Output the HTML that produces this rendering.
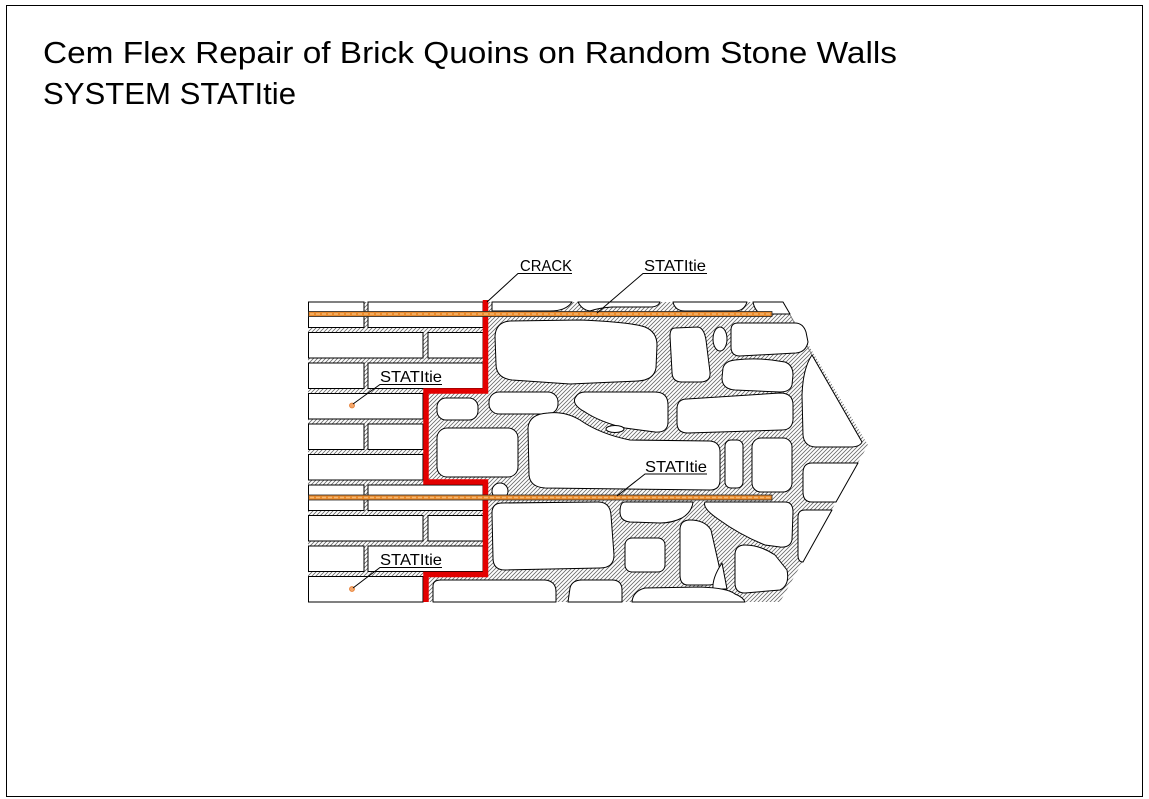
<!DOCTYPE html>
<html>
<head>
<meta charset="utf-8">
<style>
html,body{margin:0;padding:0;background:#fff;}
svg{display:block;}
text{font-family:"Liberation Sans","DejaVu Sans",sans-serif;fill:#000;}
</style>
</head>
<body>
<svg width="1149" height="799" viewBox="0 0 1149 799" xmlns="http://www.w3.org/2000/svg">
<defs>
<pattern id="h" patternUnits="userSpaceOnUse" width="4" height="4">
<path d="M-1,1 L1,-1 M0,4 L4,0 M3,5 L5,3" stroke="#6a6a6a" stroke-width="0.8"/>
</pattern>
</defs>
<rect x="0" y="0" width="1149" height="799" fill="#fff"/>
<rect x="6.5" y="5.5" width="1136" height="791" fill="none" stroke="#000" stroke-width="1"/>

<text x="43" y="63" font-size="31" textLength="854" lengthAdjust="spacingAndGlyphs">Cem Flex Repair of Brick Quoins on Random Stone Walls</text>
<text x="43" y="104" font-size="31" textLength="253" lengthAdjust="spacingAndGlyphs">SYSTEM STATItie</text>

<!-- hatched mortar region -->
<path d="M308,302 L783,302 L868,445 L780,602 L308,602 Z" fill="url(#h)"/>
<path d="M783,302 L812,355" stroke="#777" stroke-width="0.8" fill="none"/>

<!-- bricks -->
<g fill="#fff" stroke="#000" stroke-width="1">
<rect x="308.5" y="302" width="55.5" height="25.5"/>
<rect x="368" y="302" width="115" height="25.5"/>
<rect x="308.5" y="332.5" width="114.5" height="25.5"/>
<rect x="428" y="332.5" width="55" height="25.5"/>
<rect x="308.5" y="363" width="55.5" height="25.5"/>
<rect x="368" y="363" width="115" height="25.5"/>
<rect x="308.5" y="393.5" width="114.5" height="25.5"/>
<rect x="308.5" y="424" width="55.5" height="25.5"/>
<rect x="368" y="424" width="55" height="25.5"/>
<rect x="308.5" y="454.5" width="114.5" height="25.5"/>
<rect x="308.5" y="485" width="55.5" height="25.5"/>
<rect x="368" y="485" width="115" height="25.5"/>
<rect x="308.5" y="515.5" width="114.5" height="25.5"/>
<rect x="428" y="515.5" width="55" height="25.5"/>
<rect x="308.5" y="546" width="55.5" height="25.5"/>
<rect x="368" y="546" width="115" height="25.5"/>
<rect x="308.5" y="576.5" width="114.5" height="25.5"/>
</g>

<!-- stones -->
<g fill="#fff" stroke="#000" stroke-width="1" stroke-linejoin="round">
<path d="M492,302 L572,302 Q566,311 550,311 L492,311 Z"/>
<path d="M578,302 L660,302 Q658,307 650,307 L612,307 Q598,308 590,311 Q582,310 578,302 Z"/>
<path d="M673,302 L747,302 Q744,311 735,311 L685,311 Q675,311 673,302 Z"/>
<path d="M753,302 L783,302 L790,314 L762,314 Q755,312 753,302 Z"/>
<path d="M510,321 L580,320 Q630,322 645,327 Q657,332 657,345 L656,368 Q654,380 638,381 L570,384 L512,380 Q496,378 496,364 L495,336 Q496,322 510,321 Z"/>
<rect x="437" y="398" width="41" height="22" rx="9"/>
<rect x="489" y="392" width="69" height="22" rx="10"/>
<path d="M585,392 L655,392 Q668,392 668,405 L668,422 Q668,433 655,432 L625,428 Q600,422 585,412 Q572,405 575,398 Q578,392 585,392 Z"/>
<ellipse cx="615" cy="429" rx="9" ry="3.5"/>
<path d="M548,413 Q565,411 580,420 Q600,434 630,440 L710,441 Q720,442 720,452 L720,480 Q720,490 710,490 L545,488 Q530,487 529,475 L528,428 Q529,414 548,413 Z"/>
<rect x="437" y="428" width="81" height="49" rx="10"/>
<path d="M675,328 L698,327 Q704,328 706,340 L710,372 Q711,382 700,382 L682,382 Q672,382 672,372 L670,336 Q670,328 675,328 Z"/>
<ellipse cx="720" cy="339" rx="7" ry="12"/>
<path d="M738,323 L795,323 Q803,323 806,332 L808,342 Q806,352 796,353 L740,356 Q731,356 731,347 L731,330 Q731,323 738,323 Z"/>
<path d="M735,360 Q760,357 785,362 Q793,365 793,375 L792,385 Q790,392 780,392 L735,390 Q722,389 722,378 L723,368 Q725,361 735,360 Z"/>
<path d="M812,355 L862,442 Q860,447 850,447 L815,447 Q804,446 803,435 L802,395 Q803,368 812,355 Z"/>
<path d="M687,399 L780,393 Q793,393 793,405 L793,420 Q792,430 782,430 L688,433 Q677,433 677,423 L677,409 Q677,399 687,399 Z"/>
<rect x="725" y="440" width="18" height="48" rx="6"/>
<rect x="752" y="438" width="40" height="54" rx="9"/>
<path d="M812,463 L858,463 L836,502 L812,502 Q803,502 803,492 L803,473 Q803,463 812,463 Z"/>
<path d="M805,510 L832,510 L803,562 Q798,562 798,555 L798,517 Q798,510 805,510 Z"/>
<circle cx="500" cy="491" r="8"/>
<path d="M502,503 L598,502 Q610,502 611,515 L614,555 Q614,568 600,568 L505,570 Q493,570 493,558 L492,513 Q492,503 502,503 Z"/>
<path d="M625,502 L693,502 Q692,512 682,518 Q672,523 660,523 L630,522 Q620,521 620,512 Q620,502 625,502 Z"/>
<path d="M705,502 L785,502 Q793,502 793,512 L792,540 Q790,548 780,547 L765,545 Q740,535 718,519 Q702,508 705,502 Z"/>
<path d="M690,520 Q705,520 711,530 L720,570 Q721,585 708,585 L688,585 Q680,585 680,575 L680,530 Q680,520 690,520 Z"/>
<path d="M722,563 L727,589 L713,589 Q712,578 722,563 Z"/>
<path d="M745,545 Q760,545 775,555 L787,570 Q790,585 780,590 L745,593 Q735,593 735,583 L735,555 Q735,545 745,545 Z"/>
<rect x="625" y="538" width="40" height="34" rx="7"/>
<path d="M433,602 L433,586 Q433,580 441,580 L545,580 Q556,581 556,592 L556,602 Z"/>
<path d="M568,602 L570,588 Q572,580 582,580 L612,580 Q622,580 622,590 L622,602 Z"/>
<path d="M632,602 Q633,591 645,588 L700,587 Q728,588 735,594 Q743,597 745,602 Z"/>
</g>

<!-- crack -->
<polyline points="485.5,300 485.5,391 426,391 426,482 485.5,482 485.5,574.5 426,574.5 426,602" fill="none" stroke="#e30000" stroke-width="5.5" stroke-linejoin="miter"/>

<!-- ties -->
<g>
<rect x="308.5" y="311.5" width="463.5" height="5" fill="#e98a2c" stroke="#222" stroke-width="0.8"/>
<line x1="310" y1="314" x2="771" y2="314" stroke="#f6b872" stroke-width="1.4" stroke-dasharray="4 2"/>
<rect x="308.5" y="495" width="463.5" height="5" fill="#e98a2c" stroke="#222" stroke-width="0.8"/>
<line x1="310" y1="497.5" x2="771" y2="497.5" stroke="#f6b872" stroke-width="1.4" stroke-dasharray="4 2"/>
</g>

<circle cx="352" cy="405.5" r="2.5" fill="#f4a66a" stroke="#e57a2e" stroke-width="0.8"/>
<circle cx="352" cy="589" r="2.5" fill="#f4a66a" stroke="#e57a2e" stroke-width="0.8"/>

<g stroke="#000" stroke-width="1" fill="none">
<polyline points="487,302 518,273.5 572,273.5"/>
<polyline points="597,313 643,273.5 707,273.5"/>
<polyline points="353,404 380,384.5 442,384.5"/>
<polyline points="353,588 380,567.5 442,567.5"/>
<polyline points="617,496 645,474 707,474"/>
</g>
<g font-size="16">
<text x="520" y="271" textLength="52" lengthAdjust="spacingAndGlyphs">CRACK</text>
<text x="644" y="271" textLength="62" lengthAdjust="spacingAndGlyphs">STATItie</text>
<text x="380" y="382" textLength="62" lengthAdjust="spacingAndGlyphs">STATItie</text>
<text x="380" y="565" textLength="62" lengthAdjust="spacingAndGlyphs">STATItie</text>
<text x="645" y="472" textLength="62" lengthAdjust="spacingAndGlyphs">STATItie</text>
</g>
</svg>
</body>
</html>
